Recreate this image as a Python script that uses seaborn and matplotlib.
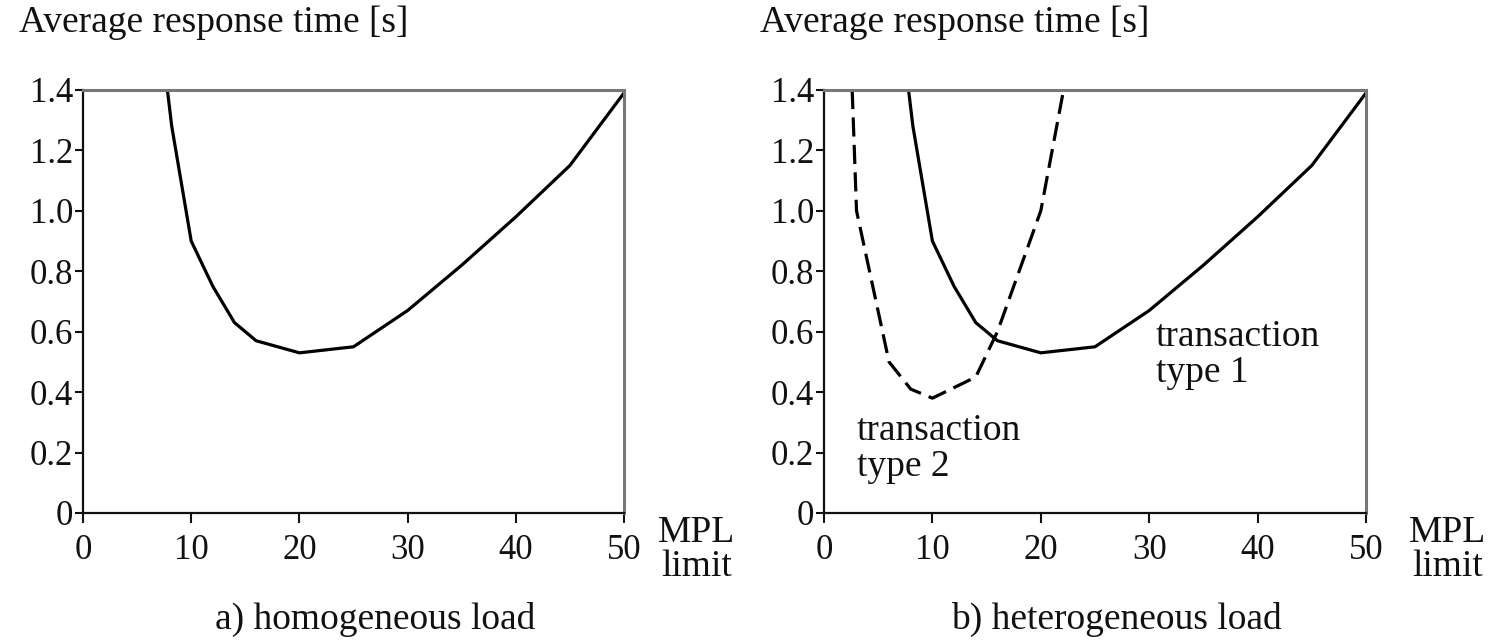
import matplotlib
matplotlib.use("Agg")
import pandas as pd
import matplotlib.pyplot as plt
import seaborn as sns

# values
mpl_type1 = [7.8, 8.2, 10, 12, 14, 16, 20, 25, 30, 35, 40, 45, 50]
resp_type1 = [1.40, 1.28, 0.90, 0.75, 0.63, 0.57, 0.53, 0.55, 0.67, 0.82, 0.98, 1.15, 1.39]

mpl_type2 = [2.6, 3, 6, 8, 10, 14, 16, 20, 22.1]
resp_type2 = [1.40, 1.00, 0.50, 0.41, 0.38, 0.45, 0.60, 1.00, 1.40]

x_ticks = [0, 10, 20, 30, 40, 50]
y_ticks = [0, 0.2, 0.4, 0.6, 0.8, 1.0, 1.2, 1.4]
y_ticklabels = ["0", "0.2", "0.4", "0.6", "0.8", "1.0", "1.2", "1.4"]
panel_titles = ["a) homogeneous load", "b) heterogeneous load"]
y_label = "Average response time [s]"
x_label = "MPL\nlimit"

sns.set_style("ticks")
plt.rcParams["font.family"] = ["Liberation Serif", "DejaVu Serif"]
plt.rcParams["text.color"] = "#111111"

TICK_FS = 25
TEXT_FS = 27


def style_axes(ax, mpl_offset):
    ax.set_xlim(0, 50)
    ax.set_ylim(0, 1.4)
    ax.set_xticks(x_ticks)
    ax.set_xticklabels([str(t) for t in x_ticks])
    ax.set_yticks(y_ticks)
    ax.set_yticklabels(y_ticklabels)
    ax.tick_params(axis="both", labelsize=TICK_FS, colors="#111111", width=1.5)
    ax.tick_params(axis="y", length=6, pad=1)
    ax.tick_params(axis="x", length=7, pad=8)
    ax.set_xlabel("")
    ax.set_ylabel("")
    for side in ["left", "bottom"]:
        ax.spines[side].set_color("#111111")
        ax.spines[side].set_linewidth(1.6)
    for side in ["top", "right"]:
        ax.spines[side].set_visible(True)
        ax.spines[side].set_color("#777777")
        ax.spines[side].set_linewidth(2.2)
    ax.text(-0.118, 1.20, y_label, transform=ax.transAxes, ha="left", va="top",
            fontsize=TEXT_FS)
    ax.text(1.0 + mpl_offset, -0.005, x_label, transform=ax.transAxes, ha="left",
            va="top", fontsize=TEXT_FS, multialignment="center", linespacing=1.0)


fig = plt.figure(figsize=(14.95, 6.41), dpi=100)
ax_a = fig.add_axes([83 / 1495, 0.1997, 541 / 1495, 0.66])
ax_b = fig.add_axes([824 / 1495, 0.1997, 542 / 1495, 0.66])

df1 = pd.DataFrame({"mpl": mpl_type1, "resp": resp_type1})
df2 = pd.DataFrame({"mpl": mpl_type2, "resp": resp_type2})

sns.lineplot(data=df1, x="mpl", y="resp", ax=ax_a, sort=False, estimator=None,
             color="black", linewidth=2.3)

sns.lineplot(data=df1, x="mpl", y="resp", ax=ax_b, sort=False, estimator=None,
             color="black", linewidth=2.3)
sns.lineplot(data=df2, x="mpl", y="resp", ax=ax_b, sort=False, estimator=None,
             color="black", linewidth=2.3, dashes=False)
ax_b.lines[-1].set_dashes([6, 2.6])

style_axes(ax_a, 0.062)
style_axes(ax_b, 0.080)

ax_b.text(30.6, 0.64, "transaction\ntype 1", fontsize=TEXT_FS, ha="left", va="top",
          linespacing=1.05)
ax_b.text(3.0, 0.33, "transaction\ntype 2", fontsize=TEXT_FS, ha="left", va="top",
          linespacing=1.05)

for ax, title in zip([ax_a, ax_b], panel_titles):
    ax.text(0.54, -0.21, title, transform=ax.transAxes, ha="center", va="top",
            fontsize=TEXT_FS)

fig.savefig("out.png", dpi=100)
plt.close(fig)
